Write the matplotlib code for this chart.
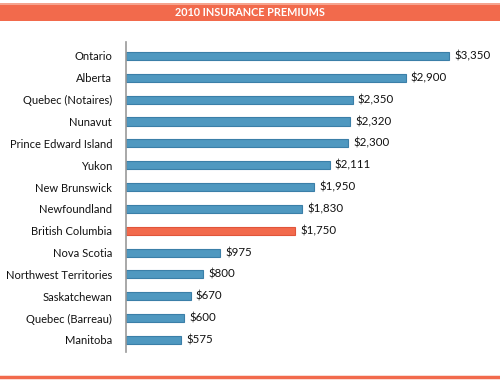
import matplotlib
matplotlib.use("Agg")
import matplotlib.pyplot as plt
from matplotlib.patches import Rectangle
from matplotlib.lines import Line2D

plt.rcParams['font.family'] = ['Lato', 'DejaVu Sans']

categories = ["Ontario", "Alberta", "Quebec (Notaires)", "Nunavut", "Prince Edward Island",
              "Yukon", "New Brunswick", "Newfoundland", "British Columbia", "Nova Scotia",
              "Northwest Territories", "Saskatchewan", "Quebec (Barreau)", "Manitoba"]
values = [3350, 2900, 2350, 2320, 2300, 2111, 1950, 1830, 1750, 975, 800, 670, 600, 575]
highlight = "British Columbia"
title = "2010 INSURANCE PREMIUMS"

W, H = 500, 383
fig = plt.figure(figsize=(W / 100, H / 100), dpi=100)

blue = "#4f98c0"
blue_edge = "#3b7fa8"
orange = "#f26a4c"

ax_left, ax_right = 126, 490
ax_top, ax_bottom = 42, 352
ax = fig.add_axes([ax_left / W, 1 - ax_bottom / H, (ax_right - ax_left) / W, (ax_bottom - ax_top) / H])

ypos = list(range(len(categories)))
colors = [orange if c == highlight else blue for c in categories]
edges = ["#e0553a" if c == highlight else blue_edge for c in categories]
ax.barh(ypos, values, height=0.37, color=colors, edgecolor=edges, linewidth=0.8)
for y, v in zip(ypos, values):
    ax.text(v + 55, y, f"${v:,}", va="center", ha="left", fontsize=8.3, color="#111111")

ax.set_xlim(0, 3350 * (ax_right - ax_left) / 323)
ax.set_ylim(13.55, -0.64)
ax.set_yticks(ypos)
ax.set_yticklabels(categories, fontsize=8.0, color="#111111")
ax.tick_params(axis="y", length=0, pad=10)
ax.set_xticks([])
for s in ["top", "right", "bottom"]:
    ax.spines[s].set_visible(False)
ax.spines["left"].set_color("#999999")
ax.spines["left"].set_linewidth(1.2)

# title banner
fig.patches.append(Rectangle((0, 1 - 21 / H), 1, 18 / H, transform=fig.transFigure,
                             facecolor=orange, edgecolor="none"))
fig.patches.append(Rectangle((0, 1 - 5 / H), 1, 2 / H, transform=fig.transFigure,
                             facecolor="#f5a48f", edgecolor="none"))
fig.text(0.5, 1 - 13 / H, title, ha="center", va="center", color="white",
         fontsize=7.8, fontweight="bold")

# bottom rule
fig.lines.append(Line2D([0, 1], [1 - 376.5 / H, 1 - 376.5 / H], transform=fig.transFigure,
                        color=orange, linewidth=2.5))

fig.savefig("out.png", dpi=100)
